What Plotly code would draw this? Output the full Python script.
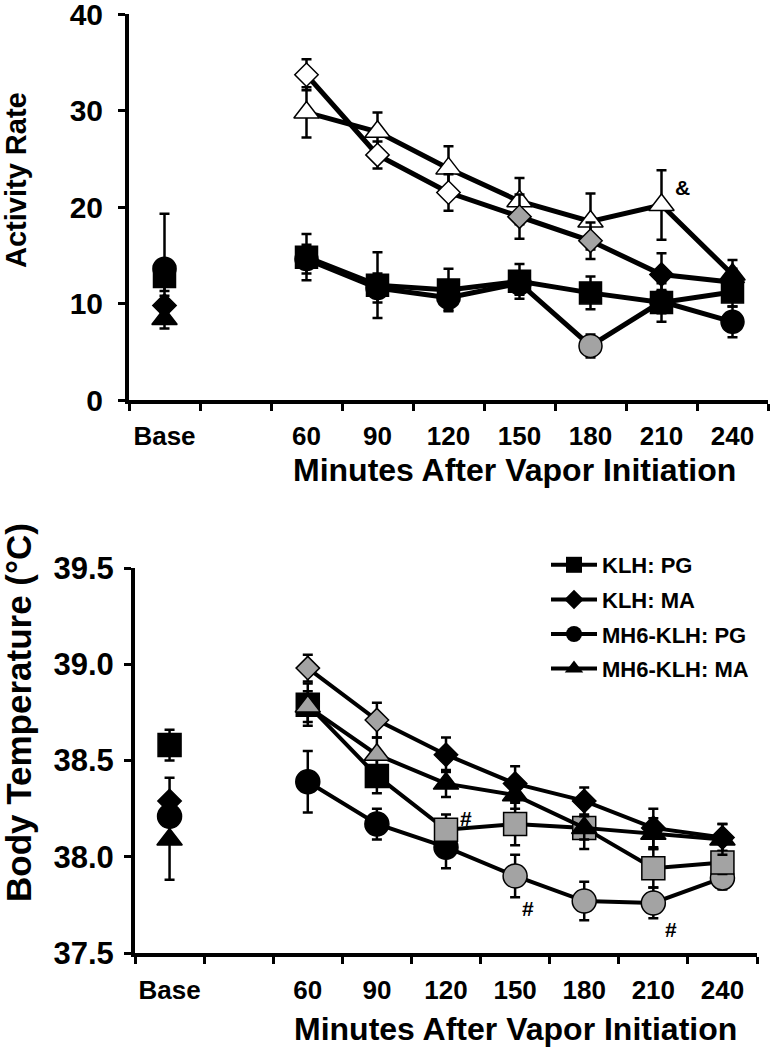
import plotly.graph_objects as go

# ---------------- data ----------------
tick_labels = ["Base", "", "60", "90", "120", "150", "180", "210", "240"]
slots = [0, 2, 3, 4, 5, 6, 7, 8]          # category slot of each time point (slot 1 is blank)

series_names = ["KLH: PG", "KLH: MA", "MH6-KLH: PG", "MH6-KLH: MA"]

# Activity rate (top panel)
act_klh_pg = [12.8, 14.8, 11.9, 11.4, 12.3, 11.1, 10.1, 11.2]
act_klh_pg_err = [1.5, 2.4, 3.4, 2.2, 1.8, 1.7, 2.0, 1.5]
act_klh_ma = [9.8, 33.7, 25.4, 21.5, 19.0, 16.5, 13.0, 12.2]
act_klh_ma_err = [1.0, 1.6, 1.4, 1.9, 2.3, 1.9, 2.2, 1.4]
act_mh6_pg = [13.6, 14.6, 11.6, 10.6, 12.1, 5.6, 10.2, 8.1]
act_mh6_pg_err = [5.7, 1.5, 1.5, 1.3, 1.2, 1.2, 1.2, 1.6]
act_mh6_ma = [8.4, 29.8, 27.8, 24.0, 20.6, 18.5, 20.2, 13.0]
act_mh6_ma_err = [1.0, 2.6, 2.0, 2.3, 2.4, 2.9, 3.6, 1.5]

# fill codes: k = black, w = white, g = gray
act_klh_pg_fill = list("kkkkkkkk")
act_klh_ma_fill = list("kwwwggkk")
act_mh6_pg_fill = list("kkkkkgkk")
act_mh6_ma_fill = list("kwwwwwwk")

# Body temperature (bottom panel)
tmp_klh_pg = [38.58, 38.79, 38.42, 38.14, 38.17, 38.15, 37.94, 37.97]
tmp_klh_pg_err = [0.08, 0.11, 0.09, 0.08, 0.11, 0.11, 0.10, 0.06]
tmp_klh_ma = [38.29, 38.98, 38.71, 38.53, 38.38, 38.29, 38.15, 38.10]
tmp_klh_ma_err = [0.12, 0.07, 0.09, 0.09, 0.09, 0.07, 0.10, 0.07]
tmp_mh6_pg = [38.21, 38.39, 38.17, 38.05, 37.90, 37.77, 37.76, 37.89]
tmp_mh6_pg_err = [0.05, 0.16, 0.08, 0.11, 0.11, 0.10, 0.08, 0.06]
tmp_mh6_ma = [38.09, 38.78, 38.53, 38.38, 38.32, 38.15, 38.12, 38.09]
tmp_mh6_ma_err = [0.21, 0.08, 0.09, 0.07, 0.07, 0.06, 0.08, 0.08]

tmp_klh_pg_fill = list("kkkggggg")
tmp_klh_ma_fill = list("kggkkkkk")
tmp_mh6_pg_fill = list("kkkkgggg")
tmp_mh6_ma_fill = list("kggkkkkk")

# significance marks: (slot position, value, text)
act_marks = [(7.3, 22.0, "&")]
tmp_marks = [(4.29, 38.20, "#"), (5.19, 37.73, "#"), (7.25, 37.62, "#")]

# ---------------- styling ----------------
FILL = {"k": "#000000", "w": "#ffffff", "g": "#a3a3a3"}
SYM_TOP = {"KLH: PG": ("square", 22), "KLH: MA": ("diamond", 18),
           "MH6-KLH: PG": ("circle", 23), "MH6-KLH: MA": ("triangle-up", 22)}
SYM_BOT = {"KLH: PG": ("square", 23), "KLH: MA": ("diamond", 18),
           "MH6-KLH: PG": ("circle", 24), "MH6-KLH: MA": ("triangle-up", 22)}
SYM_LEG = {"KLH: PG": ("square", 17), "KLH: MA": ("diamond", 15),
           "MH6-KLH: PG": ("circle", 17), "MH6-KLH: MA": ("triangle-up", 17)}
FONT = "Liberation Sans, Arial, sans-serif"
W, H = 771, 1050
OFF = 0  # page body margin removed by post_script


def PX(px):
    return (px - OFF) / W


def PY(py):
    return 1 - (py - OFF) / H


def gap(vals):
    """insert a gap for the blank slot so Base is not connected to 60"""
    return [vals[0], None] + list(vals[1:])


xs = [slots[0], None] + slots[1:]

fig = go.Figure()


def add_series(name, y, err, fill, xaxis, yaxis, lw, syms):
    sym, size = syms[name]
    colors = [FILL[fill[0]], FILL[fill[0]]] + [FILL[c] for c in fill[1:]]
    fig.add_trace(go.Scatter(
        x=xs, y=gap(y), name=name, mode="lines+markers",
        xaxis=xaxis, yaxis=yaxis, connectgaps=False,
        line=dict(color="black", width=lw),
        marker=dict(symbol=sym, size=size, color=colors,
                    line=dict(color="black", width=1.5)),
        error_y=dict(type="data", array=gap(err), visible=True, color="black",
                     thickness=2.5, width=5),
        showlegend=False, cliponaxis=False,
    ))


# top panel (draw order back to front)
top = [("MH6-KLH: MA", act_mh6_ma, act_mh6_ma_err, act_mh6_ma_fill),
       ("KLH: MA", act_klh_ma, act_klh_ma_err, act_klh_ma_fill),
       ("MH6-KLH: PG", act_mh6_pg, act_mh6_pg_err, act_mh6_pg_fill),
       ("KLH: PG", act_klh_pg, act_klh_pg_err, act_klh_pg_fill)]
for n, y, e, f in top:
    add_series(n, y, e, f, "x", "y", 5, SYM_TOP)

bot = [("KLH: MA", tmp_klh_ma, tmp_klh_ma_err, tmp_klh_ma_fill),
       ("MH6-KLH: PG", tmp_mh6_pg, tmp_mh6_pg_err, tmp_mh6_pg_fill),
       ("KLH: PG", tmp_klh_pg, tmp_klh_pg_err, tmp_klh_pg_fill),
       ("MH6-KLH: MA", tmp_mh6_ma, tmp_mh6_ma_err, tmp_mh6_ma_fill)]
for n, y, e, f in bot:
    add_series(n, y, e, f, "x2", "y2", 4, SYM_BOT)

# legend entries (black symbols, as in the key)
for n in series_names:
    sym, size = SYM_LEG[n]
    fig.add_trace(go.Scatter(
        x=[None], y=[None], name=n, mode="lines+markers", xaxis="x2", yaxis="y2",
        line=dict(color="black", width=4),
        marker=dict(symbol=sym, size=size, color="black"),
        showlegend=True, legendgroup=n))

xcommon = dict(range=[-0.5, 8.5], tickmode="array", tickvals=list(range(9)),
               ticktext=tick_labels, ticks="", showline=True, linecolor="black",
               linewidth=4, showgrid=False, zeroline=False, automargin=False,
               ticklabeloverflow="allow",
               tickfont=dict(family=FONT, size=26, color="black", weight="bold"),
               minor=dict(tick0=-0.5, dtick=1, ticks="outside", ticklen=7,
                          tickwidth=3, tickcolor="black", showgrid=False))
ycommon = dict(showline=True, linecolor="black", linewidth=4, showgrid=False,
               zeroline=False, ticks="outside", ticklen=7, tickwidth=3,
               tickcolor="black", automargin=False, ticklabeloverflow="allow")

fig.update_layout(
    width=W, height=H, margin=dict(l=0, r=0, t=0, b=0),
    paper_bgcolor="white", plot_bgcolor="white",
    xaxis=dict(domain=[PX(129), PX(768)], anchor="y", ticklabelstandoff=10, **xcommon),
    yaxis=dict(domain=[PY(400), PY(14)], anchor="x", range=[0, 40],
               tickvals=[0, 10, 20, 30, 40], ticklabelstandoff=9,
               tickfont=dict(family=FONT, size=30, color="black", weight="bold"),
               **ycommon),
    xaxis2=dict(domain=[PX(135), PX(757)], anchor="y2", ticklabelstandoff=11, **xcommon),
    yaxis2=dict(domain=[PY(953), PY(568)], anchor="x2", range=[37.5, 39.5],
                tickvals=[37.5, 38.0, 38.5, 39.0, 39.5], tickformat=".1f",
                ticklabelstandoff=4,
                tickfont=dict(family=FONT, size=31, color="black", weight="bold"),
                **ycommon),
    legend=dict(x=PX(546), xanchor="left", y=PY(544), yanchor="top",
                font=dict(family=FONT, size=22, color="black", weight="bold"),
                tracegroupgap=3, itemwidth=46, bgcolor="rgba(0,0,0,0)"),
    showlegend=True,
)

ann = []
title_font = dict(family=FONT, size=32, color="black", weight="bold")
ann.append(dict(text="Minutes After Vapor Initiation", xref="paper", yref="paper",
                x=PX(514), y=PY(470), xanchor="center", yanchor="middle",
                showarrow=False, font=title_font))
ann.append(dict(text="Minutes After Vapor Initiation", xref="paper", yref="paper",
                x=PX(515), y=PY(1029), xanchor="center", yanchor="middle",
                showarrow=False, font=title_font))
ann.append(dict(text="Activity Rate", xref="paper", yref="paper", textangle=-90,
                x=PX(16), y=PY(180), xanchor="center", yanchor="middle",
                showarrow=False, font=dict(title_font, size=29)))
ann.append(dict(text="Body Temperature (°C)", xref="paper", yref="paper", textangle=-90,
                x=PX(18), y=PY(713), xanchor="center", yanchor="middle",
                showarrow=False, font=dict(title_font, size=35)))
mark_font = dict(family=FONT, size=21, color="black", weight="bold")
for x, y, t in act_marks:
    ann.append(dict(text=t, x=x, y=y, xref="x", yref="y", showarrow=False, font=mark_font))
for x, y, t in tmp_marks:
    ann.append(dict(text=t, x=x, y=y, xref="x2", yref="y2", showarrow=False, font=mark_font))
fig.update_layout(annotations=ann)

fig.write_html("out.html", config={"staticPlot": True, "displayModeBar": False},
               post_script="document.body.style.margin='0px';")
